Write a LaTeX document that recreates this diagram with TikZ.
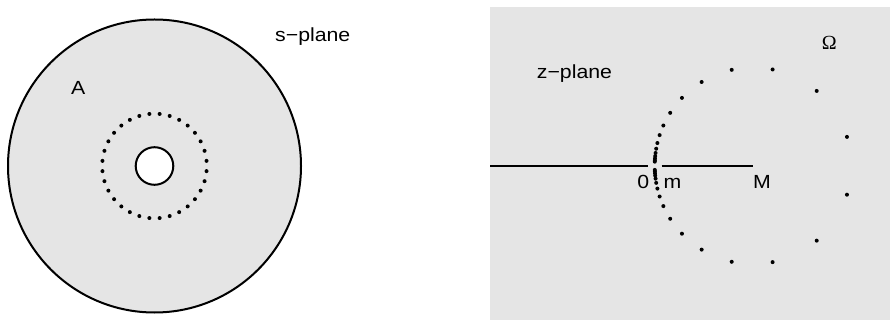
\documentclass[tikz,border=0pt]{standalone}
\usepackage{fontspec}
\setmainfont{Liberation Sans}[FakeStretch=1.12]
\newfontfamily\greekfont{Liberation Serif}
\usepackage{xcolor}
\usetikzlibrary{positioning,calc}
\definecolor{planegray}{HTML}{E5E5E5}

\begin{document}
\begin{tikzpicture}[x=1pt, y=-1pt,
    region/.style={draw, line width=2pt, fill=planegray},
    hole/.style={draw, line width=2pt, fill=white},
    axis/.style={line width=2pt},
    lab/.style={font=\fontsize{19}{22}\selectfont, inner sep=0pt, anchor=base west}]

    \useasboundingbox (0,0) rectangle (890,320);

    % s-plane
    \coordinate (sc) at (154.5,166);
    \draw[region] (sc) circle (146.5);
    \draw[hole] (sc) circle (18.8);
    \foreach \k in {0,...,31}
        \fill ($(sc)+({5.625+11.25*\k}:52.3)$) circle (2);
    \node[lab] (slabel) at (275,42) {s−plane};
    \node[lab] (alabel) at (71,95) {A};

    % z-plane
    \fill[planegray] (490,7) rectangle (890,320);
    \coordinate (zleft) at (490,165.7);
    \coordinate (zgapl) at (647.7,165.7);
    \coordinate (zgapr) at (661.5,165.7);
    \coordinate (zright) at (753.3,165.7);
    \draw[axis] (zleft) -- (zgapl);
    \draw[axis] (zgapr) -- (zright);
    \coordinate (zc) at (753,165.8);
    \foreach \a in {17.1,49.6,78.5,102.5,121.5,136.3,147.4,155.8,161.8,166.6,170,172.5,174.3,175.7,176.8,177.6} {
        \fill (zc) ++(\a:98.3) circle (2);
        \fill (zc) ++(-\a:98.3) circle (2);
    }
    \node[lab] (zlabel) at (536.7,79) {z−plane};
    \node[lab, font=\fontsize{20}{22}\greekfont] (omega) at (821.7,50) {Ω};
    \node[lab] (zero) at (637.2,188.3) {0};
    \node[lab] (mlow) at (663.5,188.3) {m};
    \node[lab] (mhigh) at (753,188.3) {M};
\end{tikzpicture}
\end{document}
